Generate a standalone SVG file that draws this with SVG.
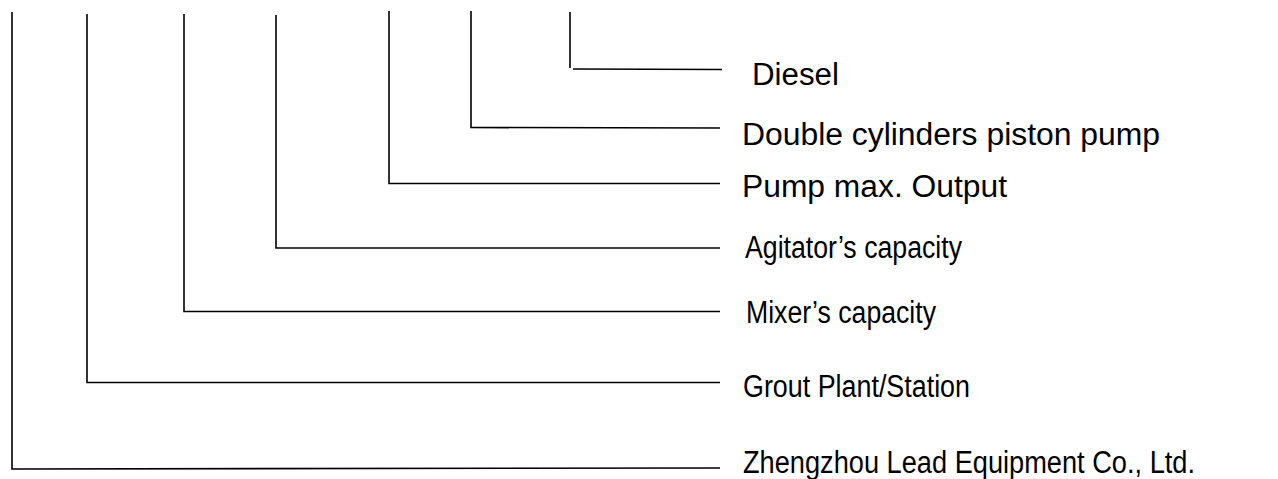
<svg xmlns="http://www.w3.org/2000/svg" width="1278" height="479" viewBox="0 0 1278 479">
<style>
.c{fill:none;stroke:#000;stroke-width:1.6}
.t{font-family:"Liberation Sans",Arial,sans-serif;font-size:31px;fill:#000}
</style>
<rect width="1278" height="479" fill="#fff"/>
<g id="connectors">
<polyline class="c" points="12,12 12,469 720,468"/>
<polyline class="c" points="87,14 87,382.5 720,382.5"/>
<polyline class="c" points="184,14 184,311.5 720,311.5"/>
<polyline class="c" points="276,15 276,248 720,248"/>
<polyline class="c" points="389,11 389,183.5 720,183.5"/>
<polyline class="c" points="471,11 471,127.5 720,128"/>
<polyline class="c" points="570,12 570,68"/>
<line class="c" x1="573" y1="69" x2="722" y2="69.5"/>
</g>
<g id="n-diesel"><text class="t" x="752" y="85" textLength="87" lengthAdjust="spacingAndGlyphs">Diesel</text></g>
<g id="n-pump-type"><text class="t" x="742" y="145" textLength="418" lengthAdjust="spacingAndGlyphs">Double cylinders piston pump</text></g>
<g id="n-output"><text class="t" x="742" y="197" textLength="265" lengthAdjust="spacingAndGlyphs">Pump max. Output</text></g>
<g id="n-agitator"><text class="t" x="745" y="258" textLength="217" lengthAdjust="spacingAndGlyphs">Agitator’s capacity</text></g>
<g id="n-mixer"><text class="t" x="746" y="323" textLength="190" lengthAdjust="spacingAndGlyphs">Mixer’s capacity</text></g>
<g id="n-grout"><text class="t" x="743" y="396.5" textLength="227" lengthAdjust="spacingAndGlyphs">Grout Plant/Station</text></g>
<g id="n-company"><text class="t" x="743" y="472.5" textLength="452" lengthAdjust="spacingAndGlyphs">Zhengzhou Lead Equipment Co., Ltd.</text></g>
</svg>
